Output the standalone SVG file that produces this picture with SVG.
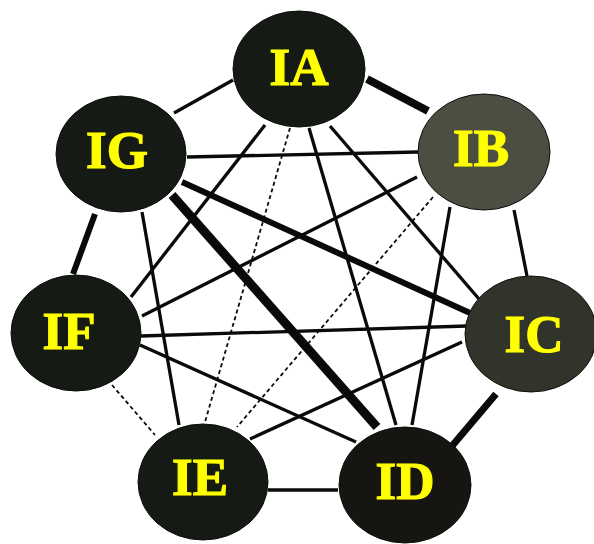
<svg xmlns="http://www.w3.org/2000/svg" width="594" height="544" viewBox="0 0 594 544">
<style>
.e{stroke:#0a0a0a;stroke-linecap:butt;fill:none}
.t{stroke-width:3.3}
.d{stroke-width:1.8;stroke-dasharray:4 3}
.n{fill:#151a14;stroke:#0c0f0b;stroke-width:1}
.lb{font-family:"Liberation Serif","Times New Roman",serif;font-weight:bold;font-size:53px;fill:#ffff00;text-anchor:middle;stroke:#ffff00;stroke-width:1.2}
</style>
<rect width="594" height="544" fill="#ffffff"/>
<g id="connectors">
<line class="e" x1="367" y1="79" x2="428" y2="111" stroke-width="8"/>
<line class="e t" x1="174" y1="113" x2="233" y2="80"/>
<line class="e t" x1="265" y1="125" x2="131" y2="297"/>
<line class="e d" x1="290" y1="128" x2="205" y2="422"/>
<line class="e t" x1="309" y1="128" x2="396" y2="425"/>
<line class="e t" x1="330" y1="126" x2="479" y2="299"/>
<line class="e t" x1="187" y1="157" x2="418" y2="152"/>
<line class="e" x1="182" y1="182" x2="470" y2="313" stroke-width="6"/>
<line class="e" x1="172" y1="195" x2="377" y2="427" stroke-width="9"/>
<line class="e" x1="95" y1="214" x2="73" y2="274" stroke-width="6"/>
<line class="e t" x1="142" y1="212" x2="179" y2="425"/>
<line class="e t" x1="417" y1="177" x2="142" y2="316"/>
<line class="e d" x1="433" y1="197" x2="237" y2="427"/>
<line class="e t" x1="450" y1="207" x2="412" y2="425"/>
<line class="e t" x1="514" y1="210" x2="527" y2="276"/>
<line class="e t" x1="141" y1="336" x2="467" y2="326"/>
<line class="e t" x1="140" y1="345" x2="356" y2="442"/>
<line class="e d" x1="112" y1="385" x2="155" y2="435"/>
<line class="e t" x1="250" y1="439" x2="462" y2="342"/>
<line class="e t" x1="268" y1="490" x2="338" y2="490"/>
<line class="e" x1="496" y1="394" x2="452" y2="446" stroke-width="7"/>
</g>
<g id="IA"><ellipse class="n" cx="299" cy="69" rx="66" ry="58"/><text class="lb" x="299" y="85">IA</text></g>
<g id="IB"><ellipse class="n" cx="484" cy="152" rx="66" ry="58" style="fill:#4b4e40"/><text class="lb" x="481" y="166">IB</text></g>
<g id="IC"><ellipse class="n" cx="531" cy="334" rx="66" ry="58" style="fill:#30342b"/><text class="lb" x="534" y="352">IC</text></g>
<g id="ID"><ellipse class="n" cx="405" cy="485" rx="66" ry="58" style="fill:#171512"/><text class="lb" x="405" y="499">ID</text></g>
<g id="IE"><ellipse class="n" cx="203" cy="482" rx="65" ry="58"/><text class="lb" x="200" y="495">IE</text></g>
<g id="IF"><ellipse class="n" cx="76" cy="333" rx="65" ry="58"/><text class="lb" x="69" y="349">IF</text></g>
<g id="IG"><ellipse class="n" cx="121" cy="154" rx="65" ry="58"/><text class="lb" x="117" y="168">IG</text></g>
</svg>
